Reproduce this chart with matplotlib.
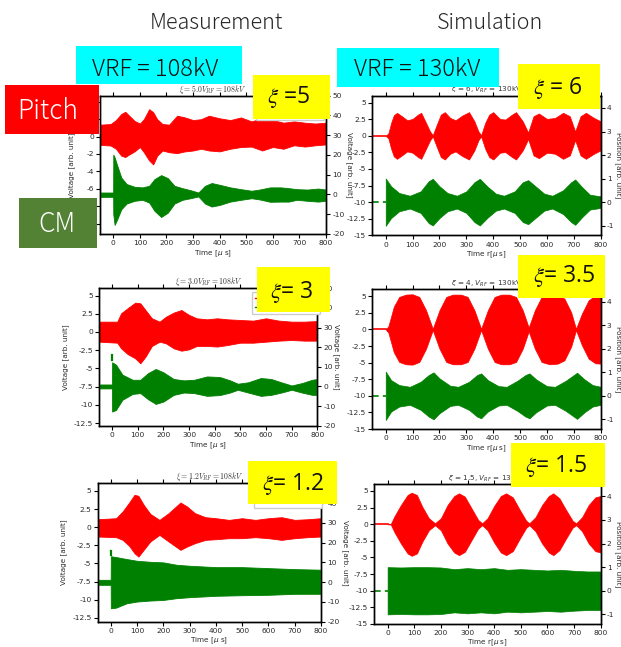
import matplotlib
matplotlib.use("Agg")
import matplotlib.pyplot as plt
from matplotlib.patches import Rectangle
from matplotlib.lines import Line2D
from matplotlib.ticker import FuncFormatter

# ---------------- data ----------------
# Measurement, xi = 5 (top left)
m5_pitch_t  = [-50, -10, 10, 30, 45, 60, 80, 100, 115, 135, 150, 165, 185, 210, 240, 270, 300, 330,
               360, 400, 440, 480, 520, 560, 600, 640, 680, 720, 760, 800]
m5_pitch_hi = [1.37, 1.44, 1.9, 2.6, 2.85, 2.4, 1.8, 1.5, 2.0, 3.15, 2.8, 2.0, 1.45, 1.37, 2.4, 2.2, 1.9, 2.0,
               2.4, 2.1, 1.9, 2.2, 1.75, 2.1, 1.9, 1.6, 1.75, 1.6, 1.5, 1.6]
m5_pitch_lo = [-0.95, -1.03, -1.4, -2.2, -2.35, -2.05, -1.7, -1.2, -1.8, -2.75, -3.2, -2.2, -1.6, -1.8, -1.9,
               -1.7, -1.6, -1.4, -1.6, -1.7, -1.4, -1.2, -1.15, -1.6, -1.2, -1.4, -1.0, -1.15, -1.0, -0.9]
m5_cm_t  = [-50, -0.5, 0, 5, 15, 30, 50, 80, 110, 135, 155, 180, 205, 230, 260, 290, 320, 345, 370, 400,
            440, 480, 520, 550, 590, 630, 660, 690, 730, 770, 800]
m5_cm_hi = [1.0, 1.0, 20.2, 18.8, 14.6, 8.6, 5.3, 3.9, 3.6, 4.4, 7.8, 9.8, 8.3, 4.4, 3.2, 2.2, 1.0, 4.4, 5.8,
            4.9, 3.6, 2.7, 1.9, 2.5, 3.6, 3.6, 3.2, 2.7, 2.5, 3.0, 2.5]
m5_cm_lo = [-1.2, -1.2, -10.0, -15.4, -12.5, -7.5, -4.6, -3.2, -2.7, -4.1, -8.3, -11.4, -9.2, -4.6, -2.7, -1.9,
            -1.0, -4.6, -6.1, -5.3, -3.6, -2.7, -1.9, -2.5, -3.7, -3.6, -3.6, -2.7, -3.2, -3.6, -3.2]

# Measurement, xi = 3 (middle left)
m3_pitch_t  = [-50, 20, 35, 60, 90, 110, 130, 155, 185, 210, 240, 270, 300, 330, 370, 410, 450, 500, 550,
               600, 650, 700, 750, 800]
m3_pitch_hi = [1.42, 1.42, 2.57, 3.25, 4.03, 3.94, 3.02, 1.88, 1.42, 2.1, 2.66, 3.02, 2.34, 1.88, 1.74, 1.88,
               1.74, 1.65, 1.56, 1.88, 1.56, 1.42, 1.42, 1.5]
m3_pitch_lo = [-1.33, -1.47, -2.24, -3.02, -3.62, -4.3, -3.4, -1.92, -1.33, -1.56, -2.24, -2.57, -2.38, -1.92,
               -1.92, -2.0, -1.79, -1.47, -1.47, -1.33, -1.19, -1.1, -1.19, -1.19]
m3_cm_t  = [-50, -0.5, 0, 15, 40, 80, 110, 140, 170, 200, 240, 280, 320, 370, 420, 460, 490, 530, 580, 620,
            660, 700, 740, 780, 800]
m3_cm_hi = [1.0, 1.0, 12.3, 11.1, 6.0, 3.4, 3.4, 6.8, 8.9, 7.2, 3.8, 3.1, 3.4, 5.1, 4.8, 3.1, 1.4, 2.1, 4.3,
            3.8, 2.1, 0.5, 1.7, 3.4, 3.8]
m3_cm_lo = [-1.0, -1.0, -12.8, -12.0, -6.8, -3.8, -3.4, -6.5, -8.9, -7.7, -4.3, -3.1, -3.4, -4.8, -4.4, -3.1,
            -1.7, -3.1, -4.8, -4.3, -3.1, -1.7, -3.1, -4.3, -4.3]
m3_cm_spike = [13.7, 15.9]

# Measurement, xi = 1.2 (bottom left)
m12_pitch_t  = [-50, 20, 45, 70, 90, 105, 125, 150, 185, 220, 265, 290, 320, 360, 400, 450, 500, 550, 600,
                650, 700, 750, 800]
m12_pitch_hi = [1.1, 1.24, 2.17, 3.41, 4.47, 4.33, 3.09, 1.84, 1.01, 1.94, 3.41, 2.86, 1.94, 1.38, 1.24, 1.01,
                1.24, 1.01, 1.24, 1.38, 1.01, 1.1, 1.24]
m12_pitch_lo = [-1.29, -1.38, -1.75, -2.58, -3.59, -4.06, -3.13, -1.98, -1.06, -1.98, -3.13, -2.67, -2.21,
                -1.75, -1.66, -1.52, -1.52, -1.38, -1.52, -1.75, -1.52, -1.38, -1.29]
m12_cm_t  = [-50, -0.5, 0, 20, 60, 100, 150, 200, 250, 300, 400, 500, 600, 700, 800]
m12_cm_hi = [1.19, 1.19, 13.1, 12.7, 11.7, 10.8, 10.3, 10.0, 8.8, 8.3, 7.6, 7.6, 7.1, 6.6, 6.3]
m12_cm_lo = [-1.36, -1.36, -13.2, -12.9, -10.7, -9.8, -9.3, -9.0, -8.1, -7.6, -6.9, -6.6, -6.4, -5.9, -5.9]
m12_cm_spike = [13.9, 15.9]

# Simulation envelopes (symmetric amplitude around the trace baseline)
sim_pre_t = [-50, 0]
pitch_base = 0.0
cm_base = -10.0

s6_pitch_t   = [0, 10, 20, 30, 42, 60, 80, 100, 120, 132, 150, 165, 175, 190, 205, 220, 240, 260, 285, 310,
                330, 345, 355, 370, 385, 400, 425, 445, 470, 485, 510, 530, 550, 570, 600, 630, 660, 685,
                705, 725, 745, 775, 800]
s6_pitch_amp = [0.0, 0.4, 1.94, 3.1, 3.47, 2.96, 2.35, 2.55, 3.2, 3.47, 1.94, 0.66, 0.1, 1.68, 3.2, 3.57,
                2.7, 2.35, 3.06, 3.57, 2.19, 0.66, 0.1, 1.94, 3.2, 3.57, 2.55, 2.45, 3.2, 3.57, 2.19, 0.5,
                2.96, 3.37, 2.55, 2.7, 3.47, 2.96, 0.66, 2.96, 3.47, 2.7, 2.19]
s6_cm_t   = [0, 20, 50, 90, 130, 160, 175, 200, 230, 265, 300, 330, 350, 380, 410, 440, 480, 510, 530, 560,
             590, 620, 660, 690, 705, 730, 760, 800]
s6_cm_amp = [3.57, 2.4, 1.38, 0.97, 1.63, 3.16, 3.52, 2.4, 1.38, 0.97, 1.63, 3.0, 3.52, 2.3, 1.28, 0.97,
             1.63, 3.0, 3.32, 2.3, 1.28, 0.97, 1.79, 3.0, 3.42, 2.3, 1.12, 0.87]

s4_pitch_t   = [0, 10, 30, 50, 75, 100, 125, 150, 175, 200, 225, 250, 280, 305, 330, 355, 380, 405, 430,
                460, 485, 510, 532, 555, 580, 610, 640, 665, 690, 708, 730, 755, 780, 800]
s4_pitch_amp = [0.0, 0.5, 3.43, 4.9, 5.25, 5.3, 4.9, 2.9, 0.1, 2.9, 4.9, 5.25, 5.25, 4.9, 2.9, 0.1, 2.9,
                4.9, 5.25, 5.25, 4.9, 2.9, 0.3, 2.9, 4.9, 5.25, 5.15, 4.65, 2.6, 0.1, 2.37, 4.4, 5.1, 5.15]
s4_cm_t   = [0, 20, 50, 90, 130, 160, 178, 200, 240, 270, 310, 340, 355, 380, 420, 450, 490, 520, 535, 560,
             600, 630, 670, 700, 712, 740, 770, 800]
s4_cm_amp = [3.64, 2.37, 1.62, 1.36, 2.12, 3.13, 3.54, 2.63, 1.52, 1.36, 2.12, 3.13, 3.38, 2.37, 1.46,
             1.36, 2.27, 3.13, 3.38, 2.47, 1.46, 1.36, 2.27, 3.13, 3.48, 2.47, 1.62, 1.36]

s15_pitch_t   = [0, 12, 25, 50, 75, 90, 110, 130, 155, 178, 200, 225, 250, 268, 290, 315, 340, 355, 375,
                 400, 425, 445, 470, 495, 520, 532, 555, 580, 605, 622, 645, 670, 695, 708, 730, 755, 780, 800]
s15_pitch_amp = [0.0, 0.05, 1.15, 2.9, 4.4, 4.75, 4.4, 2.65, 0.9, 0.15, 0.9, 2.9, 4.25, 4.65, 4.15, 2.4,
                 0.65, 0.15, 0.9, 2.75, 4.25, 4.65, 4.05, 2.25, 0.55, 0.15, 1.05, 2.9, 4.25, 4.65, 3.9,
                 2.15, 0.5, 0.15, 1.05, 2.9, 4.05, 4.25]
s15_cm_t   = [0, 50, 100, 150, 200, 250, 300, 350, 400, 450, 500, 550, 600, 650, 700, 750, 800]
s15_cm_amp = [3.55, 3.5, 3.55, 3.55, 3.5, 3.25, 3.4, 3.25, 3.4, 3.15, 3.25, 3.15, 3.05, 3.15, 3.0, 2.9, 2.9]

x_ticks = [0, 100, 200, 300, 400, 500, 600, 700, 800]
meas_right_ticks = [-20, -10, 0, 10, 20, 30, 40, 50]
sim_left_ticks = [5, 2.5, 0, -2.5, -5, -7.5, -10, -12.5, -15]
sim_right_ticks = [-1, 0, 1, 2, 3, 4]
m5_left_ticks = [4, 2, 0, -2, -4, -6, -8, -10]
m_left_ticks = [5, 2.5, 0, -2.5, -5, -7.5, -10, -12.5]

# ---------------- figure ----------------
W, H = 621, 647
fig = plt.figure(figsize=(W / 100, H / 100), dpi=100)
fig.patch.set_facecolor("white")

RED = "#ff0000"
GREEN = "#008000"
TICKC = "#2a2a2a"
fmt = FuncFormatter(lambda v, p: f"{v:g}")


def fx(x):
    return x / W


def fy(y):
    return 1 - y / H


def axes_px(l, t, r, b):
    return fig.add_axes([l / W, 1 - b / H, (r - l) / W, (b - t) / H])


def style(ax):
    for s in ax.spines.values():
        s.set_linewidth(1.0)
        s.set_color("black")
    ax.tick_params(direction="out", length=3, width=0.8, labelsize=5.4,
                   labelcolor=TICKC, pad=1.5)


def right_label_at(ax2, box, xpx):
    l, tp, r, b = box
    ax2.yaxis.set_label_coords((xpx - l) / (r - l), 0.5)
    ax2.yaxis.label.set_va("center")


def measurement(box, title, ylim_l, lticks, t, hi, lo, ct, chi, clo, spike, ylab_x, rlab_x,
                legend_top, xlabel_pad=1.5):
    l, tp, r, b = box
    ax = axes_px(l, tp, r, b)
    ax.fill_between(t, lo, hi, color=RED, lw=0.6, edgecolor=RED)
    ax.set_xlim(-50, 800)
    ax.set_ylim(*ylim_l)
    ax.set_xticks(x_ticks)
    ax.set_yticks(lticks)
    ax.yaxis.set_major_formatter(fmt)
    style(ax)
    ax.tick_params(axis="x", top=True)
    ax.set_xlabel(r"Time [$\mu$ s]", fontsize=5.2, labelpad=xlabel_pad, color=TICKC)
    ax.set_ylabel("Voltage [arb. unit]", fontsize=5.2, color=TICKC)
    ax.yaxis.set_label_coords((ylab_x - l) / (r - l), 0.5)
    ax.yaxis.label.set_va("center")
    ax.set_title(title, fontsize=5.6, pad=2.5, math_fontfamily="cm", color="#333333")
    ax2 = ax.twinx()
    ax2.fill_between(ct, clo, chi, color=GREEN, lw=0.6, edgecolor=GREEN)
    if spike is not None:
        ax2.plot([0, 0], spike, color=GREEN, lw=1.6)
    ax2.set_ylim(-20, 50)
    ax2.set_yticks(meas_right_ticks)
    ax2.yaxis.set_major_formatter(fmt)
    style(ax2)
    ax2.set_ylabel("Voltage [arb. unit]", rotation=270, fontsize=5.2, color=TICKC)
    right_label_at(ax2, box, rlab_x)
    handles = [Line2D([], [], color=RED, lw=1), Line2D([], [], color=GREEN, lw=1)]
    lx = (legend_top[0] - l) / (r - l)
    ly = (b - legend_top[1]) / (b - tp)
    ax2.legend(handles, ["Pitch", "CM"], loc="upper left", bbox_to_anchor=(lx, ly),
               borderaxespad=0, fontsize=5, handlelength=5.5, frameon=True,
               framealpha=1, edgecolor="#cccccc", fancybox=True, borderpad=0.5)
    return ax, ax2


def simulation(box, title, pt, pamp, ct, camp, xlabel_pad=1.5):
    l, tp, r, b = box
    ax = axes_px(l, tp, r, b)
    p_hi = [pitch_base + a for a in pamp]
    p_lo = [pitch_base - a for a in pamp]
    c_hi = [cm_base + a for a in camp]
    c_lo = [cm_base - a for a in camp]
    ax.plot(sim_pre_t, [pitch_base, pitch_base], color=RED, lw=1.2)
    ax.plot(sim_pre_t, [cm_base, cm_base], color=GREEN, lw=1.2, ls=(0, (4, 2.5)))
    ax.fill_between(pt, p_lo, p_hi, color=RED, lw=0.5, edgecolor=RED)
    ax.fill_between(ct, c_lo, c_hi, color=GREEN, lw=0.5, edgecolor=GREEN)
    ax.set_xlim(-50, 800)
    ax.set_ylim(-15, 6.05)
    ax.set_xticks(x_ticks)
    ax.set_yticks(sim_left_ticks)
    ax.yaxis.set_major_formatter(fmt)
    style(ax)
    ax.tick_params(axis="x", top=True)
    ax.set_xlabel(r"Time r[$\mu$ s]", fontsize=5.2, labelpad=xlabel_pad, color=TICKC)
    ax.set_title(title, fontsize=5.2, pad=2.5, color="#333333")
    ax2 = ax.twinx()
    ax2.set_ylim((-15 - cm_base) / 3.55, (6.05 - cm_base) / 3.55)
    ax2.set_yticks(sim_right_ticks)
    ax2.yaxis.set_major_formatter(fmt)
    style(ax2)
    ax2.set_ylabel("Position [arb. unit]", rotation=270, fontsize=5.2, color=TICKC)
    right_label_at(ax2, box, 618)
    return ax, ax2


# measurement panels
b_tl = (100, 95.7, 326, 234)
b_ml = (99.3, 288.3, 317.3, 425.7)
b_bl = (97.7, 483.3, 321, 621.7)
measurement(b_tl, r"$\xi = 5.0 V_{RF} = 108 kV$", (-11.2, 4.7), m5_left_ticks,
            m5_pitch_t, m5_pitch_hi, m5_pitch_lo, m5_cm_t, m5_cm_hi, m5_cm_lo, None, 72, 349,
            (256, 98))
measurement(b_ml, r"$\xi = 3.0 V_{RF} = 108 kV$", (-12.87, 6.0), m_left_ticks,
            m3_pitch_t, m3_pitch_hi, m3_pitch_lo, m3_cm_t, m3_cm_hi, m3_cm_lo, m3_cm_spike, 66, 336,
            (252, 291.7))
measurement(b_bl, r"$\xi = 1.2 V_{RF} = 108 kV$", (-13.05, 6.06), m_left_ticks,
            m12_pitch_t, m12_pitch_hi, m12_pitch_lo, m12_cm_t, m12_cm_hi, m12_cm_lo, m12_cm_spike, 64, 345,
            (254, 486), xlabel_pad=0.8)

# simulation panels
simulation((372.3, 95.7, 600.7, 235.3), r"$\xi$ = 6, $V_{RF}$ = 130kV", s6_pitch_t, s6_pitch_amp,
           s6_cm_t, s6_cm_amp)
simulation((372.3, 289.3, 600.7, 429), r"$\xi$ = 4, $V_{RF}$ = 130kV", s4_pitch_t, s4_pitch_amp,
           s4_cm_t, s4_cm_amp)
simulation((374.3, 484, 600.7, 624), r"$\xi$ = 1.5, $V_{RF}$ = 130kV", s15_pitch_t, s15_pitch_amp,
           s15_cm_t, s15_cm_amp, xlabel_pad=0.6)

# ---------------- annotation boxes ----------------
JP = ["Noto Sans CJK JP", "DejaVu Sans"]


def rect(x0, y0, x1, y1, color):
    fig.add_artist(Rectangle((fx(x0), fy(y1)), (x1 - x0) / W, (y1 - y0) / H,
                             transform=fig.transFigure, facecolor=color, edgecolor="none", zorder=20))


def txt(x, y, s, size, color, **kw):
    fig.text(fx(x), fy(y), s, fontsize=size, color=color, ha="center", va="baseline",
             zorder=21, **kw)


txt(216.5, 29.3, "Measurement", 15.5, "#262626", family=JP, fontweight="light")
txt(490, 29.3, "Simulation", 15.5, "#262626", family=JP, fontweight="light")

rect(76, 46, 241.7, 84.3, "#00ffff")
txt(155.5, 76, "VRF = 108kV", 17, "#111111", family=JP, fontweight="light")
rect(336.7, 47.7, 499, 86.7, "#00ffff")
txt(417, 76.5, "VRF = 130kV", 17, "#111111", family=JP, fontweight="light")

rect(5, 85, 99, 134.3, "#ff0000")
txt(47.5, 119, "Pitch", 19, "white", family=JP, fontweight="light")
rect(19, 198.3, 96.7, 247.7, "#548235")
txt(57, 231.7, "CM", 19, "white", family=JP, fontweight="light")

yellow = "#ffff00"
xi_boxes = [
    ((253.3, 75, 330, 119), (288.5, 102.7), r"$\xi$ =5"),
    ((518.3, 64, 600, 109.3), (558, 94), r"$\xi$ = 6"),
    ((256.7, 267.3, 330, 311.7), (291.7, 298.3), r"$\xi$= 3"),
    ((517.7, 255, 605, 298.3), (564, 281.7), r"$\xi$= 3.5"),
    ((247.7, 461, 336.7, 504), (293, 490), r"$\xi$= 1.2"),
    ((511, 443.3, 605, 486.7), (556, 471.7), r"$\xi$= 1.5"),
]
for (x0, y0, x1, y1), (tx, ty), s in xi_boxes:
    rect(x0, y0, x1, y1, yellow)
    txt(tx, ty, s, 16.5, "#111111", family=["Open Sans", "DejaVu Sans"], math_fontfamily="stix")

fig.savefig("out.png", dpi=100, facecolor="white")
